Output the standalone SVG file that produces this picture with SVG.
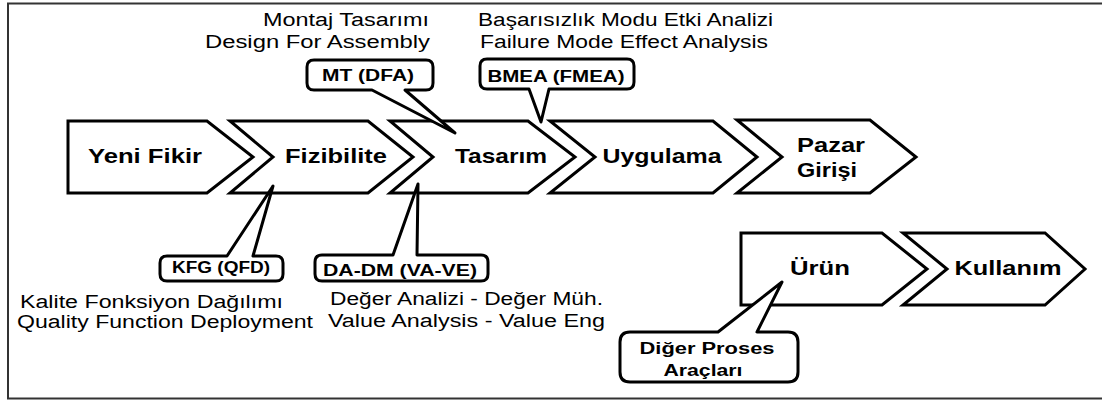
<svg xmlns="http://www.w3.org/2000/svg" width="1102" height="401" viewBox="0 0 1102 401">
  <style>
    .frame { fill: none; stroke: #333333; stroke-width: 2; }
    .step { fill: #ffffff; stroke: #000000; stroke-width: 3; stroke-linejoin: miter; }
    .callout { fill: #ffffff; stroke: #000000; stroke-width: 3; stroke-linejoin: round; }
    .label { font-family: "Liberation Sans", Arial, sans-serif; font-size: 21px; font-weight: bold; fill: #000000; }
    .tag { font-family: "Liberation Sans", Arial, sans-serif; font-size: 16px; font-weight: bold; fill: #000000; }
    .note { font-family: "Liberation Sans", Arial, sans-serif; font-size: 18px; fill: #000000; }
  </style>
  <rect width="1102" height="401" fill="#ffffff"/>
  <!-- outer frame (runs past the right edge) -->
  <rect class="frame" x="8" y="3.5" width="1110" height="395"/>

  <!-- process steps -->
  <g id="node-yeni-fikir">
    <polygon class="step" points="68,121 207,121 253,157 207,193 68,193"/>
    <text class="label" x="145" y="163" text-anchor="middle" textLength="114" lengthAdjust="spacingAndGlyphs">Yeni Fikir</text>
  </g>
  <g id="node-fizibilite">
    <polygon class="step" points="230,121 368,121 413,157 368,193 230,193 273,157"/>
    <text class="label" x="336" y="163" text-anchor="middle" textLength="102" lengthAdjust="spacingAndGlyphs">Fizibilite</text>
  </g>
  <g id="node-tasarim">
    <polygon class="step" points="390,121 528,121 575,157 528,193 390,193 433,157"/>
    <text class="label" x="501" y="163" text-anchor="middle" textLength="92" lengthAdjust="spacingAndGlyphs">Tasarım</text>
  </g>
  <g id="node-uygulama">
    <polygon class="step" points="550,121 713,121 757,157 713,193 550,193 595,157"/>
    <text class="label" x="662" y="163" text-anchor="middle" textLength="119" lengthAdjust="spacingAndGlyphs">Uygulama</text>
  </g>
  <g id="node-pazar-girisi">
    <polygon class="step" points="737,120 870,120 916,157 870,193 737,193 782,157"/>
    <text class="label" x="797" y="152" textLength="68" lengthAdjust="spacingAndGlyphs">Pazar</text>
    <text class="label" x="797" y="177" textLength="60" lengthAdjust="spacingAndGlyphs">Girişi</text>
  </g>
  <g id="node-urun">
    <polygon class="step" points="741,233 882,233 927,269 882,305 741,305"/>
    <text class="label" x="820" y="275" text-anchor="middle" textLength="60" lengthAdjust="spacingAndGlyphs">Ürün</text>
  </g>
  <g id="node-kullanim">
    <polygon class="step" points="903,233 1045,233 1085,269 1045,305 903,305 947,269"/>
    <text class="label" x="1008" y="275" text-anchor="middle" textLength="107" lengthAdjust="spacingAndGlyphs">Kullanım</text>
  </g>

  <!-- callout pointers and tool boxes -->
  <g id="connectors">
    <g id="callout-mt">
      <path class="callout" d="M314,60 H426 Q433,60 433,67 V83 Q433,90 426,90 H405 L455,133 L372,90 H314 Q307,90 307,83 V67 Q307,60 314,60 Z"/>
      <text class="tag" x="368" y="81" text-anchor="middle" textLength="92" lengthAdjust="spacingAndGlyphs">MT (DFA)</text>
    </g>
    <g id="callout-bmea">
      <path class="callout" d="M487,59 H627 Q634,59 634,66 V82 Q634,89 627,89 H549 L541,122 L529,89 H487 Q480,89 480,82 V66 Q480,59 487,59 Z"/>
      <text class="tag" x="556" y="82" text-anchor="middle" textLength="137" lengthAdjust="spacingAndGlyphs">BMEA (FMEA)</text>
    </g>
    <g id="callout-kfg">
      <path class="callout" d="M167,256 H227 L273,186 L253,256 H276 Q283,256 283,263 V274 Q283,281 276,281 H167 Q160,281 160,274 V263 Q160,256 167,256 Z"/>
      <text class="tag" x="221" y="273" text-anchor="middle" textLength="98" lengthAdjust="spacingAndGlyphs">KFG (QFD)</text>
    </g>
    <g id="callout-da-dm">
      <path class="callout" d="M322,255 H393 L418,184 L417,255 H481 Q488,255 488,262 V274 Q488,281 481,281 H322 Q315,281 315,274 V262 Q315,255 322,255 Z"/>
      <text class="tag" x="400" y="276" text-anchor="middle" textLength="154" lengthAdjust="spacingAndGlyphs">DA-DM (VA-VE)</text>
    </g>
    <g id="callout-diger">
      <path class="callout" d="M630,332 H718 L782,282 L757,332 H788 Q798,332 798,342 V372 Q798,382 788,382 H630 Q620,382 620,372 V342 Q620,332 630,332 Z"/>
      <text class="tag" x="707" y="354" text-anchor="middle" textLength="135" lengthAdjust="spacingAndGlyphs">Diğer Proses</text>
      <text class="tag" x="703" y="376" text-anchor="middle" textLength="79" lengthAdjust="spacingAndGlyphs">Araçları</text>
    </g>
  </g>

  <!-- descriptions of the tools -->
  <g id="notes">
    <text class="note" x="429" y="26" text-anchor="end" textLength="166" lengthAdjust="spacingAndGlyphs">Montaj Tasarımı</text>
    <text class="note" x="430" y="48" text-anchor="end" textLength="225" lengthAdjust="spacingAndGlyphs">Design For Assembly</text>
    <text class="note" x="478" y="26" textLength="295" lengthAdjust="spacingAndGlyphs">Başarısızlık Modu Etki Analizi</text>
    <text class="note" x="480" y="48" textLength="288" lengthAdjust="spacingAndGlyphs">Failure Mode Effect Analysis</text>
    <text class="note" x="20" y="308" textLength="263" lengthAdjust="spacingAndGlyphs">Kalite Fonksiyon Dağılımı</text>
    <text class="note" x="17" y="328" textLength="296" lengthAdjust="spacingAndGlyphs">Quality Function Deployment</text>
    <text class="note" x="330" y="305" textLength="273" lengthAdjust="spacingAndGlyphs">Değer Analizi - Değer Müh.</text>
    <text class="note" x="328" y="327" textLength="277" lengthAdjust="spacingAndGlyphs">Value Analysis - Value Eng</text>
  </g>
</svg>
